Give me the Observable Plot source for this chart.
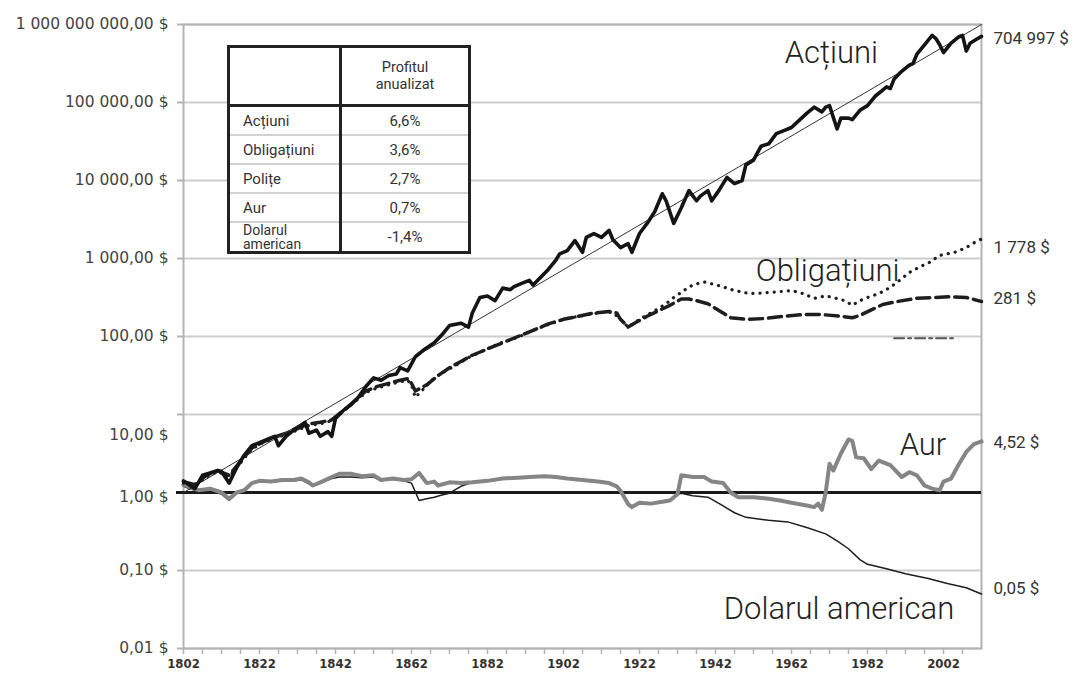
<!DOCTYPE html>
<html><head><meta charset="utf-8">
<script src="https://cdn.jsdelivr.net/npm/d3@7"></script>
<script src="https://cdn.jsdelivr.net/npm/@observablehq/plot@0.6"></script>
<style>
html,body{margin:0;padding:0;background:#fff;}
#wrap{position:relative;width:1080px;height:680px;overflow:hidden;}
#wrap svg{position:absolute;left:0;top:0;}
#tbl{position:absolute;left:227px;top:45px;width:244px;height:207px;border-collapse:collapse;table-layout:fixed;background:#fff;
  font-family:Roboto,sans-serif;font-size:15px;color:#333;border:3px solid #222;}
#tbl td{padding:0;}
#tbl td.c1{width:112px;padding-left:13px;padding-right:3px;text-align:left;box-sizing:border-box;}
#tbl td.c2{border-left:3px solid #222;text-align:center;}
#tbl tr.head td{height:56px;border-bottom:3px solid #222;line-height:17px;font-size:14.5px;}
#tbl tr.body td{border-top:2px solid #d2d2d2;height:27px;}
#tbl tr.body:first-of-type td{border-top:none;}
#tbl td.wrap{line-height:14px;font-size:14px;vertical-align:bottom;}
</style></head><body><div id="wrap"></div>
<script>
// ---- data (year, value in $) ----
const stocks = [[1802,1.41],[1804,1.2],[1805,1.12],[1807,1.66],[1809,1.78],[1811,1.91],[1812,1.86],[1814,1.32],[1816,2.09],[1818,3.02],[1820,3.98],[1822,4.37],[1824,4.79],[1826,5.25],[1827,3.98],[1829,5.25],[1831,6.31],[1833,7.24],[1834,7.94],[1835,5.75],[1837,6.31],[1838,5.25],[1840,6.03],[1841,5.25],[1842,8.91],[1844,11.2],[1846,13.2],[1848,16.6],[1850,22.9],[1852,29.5],[1854,27.5],[1856,31.6],[1858,33.1],[1859,39.8],[1861,36.3],[1863,55],[1865,66],[1868,83],[1870,105],[1872,138],[1875,148],[1877,132],[1878,200],[1880,316],[1882,331],[1884,288],[1886,417],[1888,398],[1889,437],[1891,479],[1893,525],[1894,457],[1896,575],[1898,724],[1900,955],[1901,1148],[1903,1259],[1905,1698],[1907,1202],[1908,1862],[1910,2089],[1912,1862],[1914,2291],[1915,1738],[1917,1380],[1919,1549],[1920,1202],[1922,2089],[1924,2818],[1926,3981],[1928,6761],[1929,5495],[1931,2818],[1933,4467],[1935,7413],[1937,5495],[1938,6310],[1940,7413],[1941,5495],[1943,7586],[1945,10965],[1947,9120],[1949,10000],[1950,15849],[1952,18197],[1954,27542],[1956,29512],[1958,39811],[1960,43652],[1962,47863],[1964,58884],[1966,72444],[1968,87096],[1970,75858],[1971,87096],[1972,91201],[1974,45709],[1975,63096],[1977,63096],[1978,60256],[1980,79433],[1982,91201],[1984,120226],[1986,144544],[1987,158489],[1988,151356],[1989,199526],[1991,251189],[1993,301995],[1994,316228],[1995,416869],[1997,549541],[1999,724436],[2000,660693],[2001,549541],[2002,436516],[2004,575440],[2006,691831],[2007,724436],[2008,457088],[2009,575440],[2011,660693],[2012,704997]];
const stockTrend = [[1802,1.0],[2012,1000000]];
const bonds = [[1802,1.32],[1805,1.2],[1808,1.58],[1811,1.86],[1814,1.58],[1817,2.4],[1820,3.63],[1823,4.37],[1826,5.01],[1829,5.5],[1832,6.31],[1835,7.24],[1838,7.59],[1841,8.32],[1844,11.0],[1847,14.5],[1850,19.1],[1853,21.9],[1856,24.0],[1859,26.3],[1861,27.5],[1862,24.0],[1863,16.6],[1865,20.9],[1868,29.5],[1871,36.3],[1874,43.7],[1877,53.7],[1881,66.1],[1885,81.3],[1890,97.7],[1894,120],[1899,148],[1903,170],[1907,186],[1912,204],[1915,204],[1917,166],[1919,132],[1922,166],[1926,214],[1929,263],[1931,316],[1934,398],[1936,457],[1939,501],[1943,447],[1947,389],[1951,355],[1955,363],[1958,372],[1962,389],[1965,355],[1968,309],[1971,331],[1973,316],[1976,288],[1978,251],[1980,288],[1982,316],[1985,355],[1988,427],[1991,550],[1993,661],[1996,794],[1998,871],[2001,1096],[2003,1148],[2005,1202],[2008,1380],[2010,1585],[2012,1778]];
const bills = [[1802,1.38],[1805,1.26],[1808,1.66],[1811,1.91],[1814,1.66],[1817,2.51],[1820,3.72],[1823,4.47],[1826,5.13],[1829,5.75],[1832,6.61],[1835,7.59],[1838,7.94],[1841,8.51],[1844,11.2],[1847,14.8],[1850,20.0],[1853,22.9],[1856,25.1],[1859,27.5],[1861,28.8],[1862,25.1],[1863,20.0],[1866,24.0],[1869,31.6],[1872,39.8],[1875,47.9],[1878,57.5],[1882,69.2],[1886,83.2],[1890,100],[1894,120],[1898,145],[1902,166],[1906,182],[1910,200],[1914,209],[1916,200],[1917,166],[1919,132],[1921,151],[1924,182],[1927,214],[1930,251],[1933,302],[1935,302],[1937,288],[1940,263],[1943,214],[1946,174],[1950,166],[1955,170],[1960,182],[1965,191],[1970,191],[1975,182],[1978,174],[1980,186],[1983,219],[1986,257],[1990,282],[1995,309],[2000,316],[2004,324],[2008,316],[2012,281]];
const gold = [[1802,1.26],[1804,1.15],[1806,1.07],[1809,1.12],[1812,1.0],[1814,0.83],[1816,1.0],[1818,1.07],[1820,1.32],[1822,1.41],[1825,1.38],[1828,1.45],[1831,1.45],[1833,1.51],[1835,1.35],[1836,1.23],[1838,1.35],[1841,1.58],[1843,1.74],[1846,1.74],[1849,1.62],[1852,1.66],[1854,1.45],[1857,1.51],[1860,1.45],[1862,1.48],[1864,1.78],[1866,1.32],[1868,1.38],[1869,1.23],[1872,1.35],[1875,1.32],[1878,1.35],[1882,1.41],[1886,1.51],[1890,1.55],[1893,1.58],[1897,1.62],[1900,1.58],[1903,1.51],[1907,1.45],[1911,1.38],[1914,1.32],[1916,1.2],[1917,1.05],[1919,0.71],[1920,0.65],[1922,0.74],[1925,0.72],[1928,0.76],[1930,0.79],[1932,0.95],[1933,1.66],[1936,1.58],[1939,1.58],[1941,1.38],[1944,1.32],[1946,1.0],[1948,0.87],[1952,0.87],[1956,0.83],[1959,0.79],[1962,0.74],[1966,0.68],[1968,0.65],[1969,0.72],[1970,0.6],[1971,1.0],[1972,2.34],[1973,1.91],[1975,3.16],[1977,4.79],[1978,4.57],[1979,2.82],[1981,2.75],[1983,2.0],[1985,2.57],[1988,2.24],[1991,1.58],[1993,1.82],[1995,1.66],[1997,1.23],[1999,1.12],[2001,1.07],[2002,1.38],[2004,1.51],[2006,2.29],[2008,3.31],[2010,4.17],[2012,4.52]];
const dollar = [[1802,1.2],[1804,1.1],[1806,1.05],[1809,1.1],[1812,0.95],[1814,0.79],[1816,0.98],[1818,1.05],[1820,1.29],[1822,1.38],[1825,1.35],[1828,1.41],[1831,1.41],[1833,1.45],[1835,1.29],[1836,1.2],[1838,1.32],[1841,1.51],[1843,1.58],[1846,1.58],[1849,1.55],[1852,1.58],[1854,1.41],[1857,1.48],[1860,1.41],[1862,1.32],[1864,0.79],[1866,0.83],[1868,0.87],[1870,0.93],[1872,0.98],[1875,1.2],[1878,1.35],[1882,1.41],[1886,1.51],[1890,1.55],[1893,1.58],[1897,1.62],[1900,1.58],[1903,1.51],[1907,1.45],[1911,1.38],[1914,1.32],[1916,1.2],[1917,1.05],[1919,0.71],[1920,0.65],[1922,0.74],[1925,0.72],[1928,0.76],[1930,0.79],[1932,0.95],[1933,0.98],[1936,0.91],[1940,0.87],[1943,0.72],[1947,0.55],[1950,0.48],[1956,0.44],[1961,0.42],[1966,0.355],[1971,0.295],[1974,0.24],[1977,0.19],[1980,0.138],[1982,0.12],[1987,0.105],[1992,0.091],[1998,0.079],[2003,0.068],[2008,0.06],[2012,0.05]];
const strayFragment = [[1989,95],[2004.5,95]];
const parity = [1];

const yTickValues = [1e6, 1e5, 1e4, 1e3, 100, 10, 1, 0.1, 0.01];
const yTickLabels = ["1 000 000 000,00 $", "100 000,00 $", "10 000,00 $", "1 000,00 $", "100,00 $", "10,00 $", "1,00 $", "0,10 $", "0,01 $"];
const xTickLabels = [1802, 1822, 1842, 1862, 1882, 1902, 1922, 1942, 1962, 1982, 2002];
const xMinorTicks = [1802,1807,1812,1817,1822,1827,1832,1837,1842,1847,1852,1857,1862,1867,1872,1877,1882,1887,1892,1897,1902,1907,1912,1917,1922,1927,1932,1937,1942,1947,1952,1957,1962,1967,1972,1977,1982,1987,1992,1997,2002,2007];

const seriesNames = ["Acțiuni", "Obligațiuni", "Aur", "Dolarul american"];
const seriesNameYears = [1972.5, 1971.5, 1996.6, 1974.5];
const seriesNameValues = [436516, 692, 4.07, 0.0316];
const endLabels = ["704 997 $", "1 778 $", "281 $", "4,52 $", "0,05 $"];
const endLabelValues = [660693, 1380, 309, 4.37, 0.0589];

const tableAssets = ["Acțiuni", "Obligațiuni", "Polițe", "Aur", "Dolarul american"];
const tableReturns = ["6,6%", "3,6%", "2,7%", "0,7%", "-1,4%"];
const tableHeader = ["Profitul", "anualizat"];

// ---- build ----
const rows = a => a.map(([year, value]) => ({year, value}));
const yLab = yTickValues.map((v, i) => ({value: v, label: yTickLabels[i], i}));
const names = seriesNames.map((t, i) => ({text: t, year: seriesNameYears[i], value: seriesNameValues[i]}));
const ends = endLabels.map((t, i) => ({text: t, value: endLabelValues[i]}));

const lineFont = "Roboto, sans-serif";
const tickFont = "'DejaVu Sans', sans-serif";
const chart = Plot.plot({
  width: 1080, height: 680,
  marginLeft: 183, marginRight: 99, marginTop: 24, marginBottom: 32,
  style: {fontFamily: tickFont, fontSize: "15px", color: "#333", background: "transparent"},
  x: {domain: [1802, 2012]},
  y: {type: "log", domain: [0.01, 1e6]},
  marks: [
    Plot.ruleY(yTickValues, {stroke: "#cdcdcd", strokeWidth: 2}),
    Plot.frame({stroke: "#b3b3b3", strokeWidth: 2}),
    Plot.axisY(yTickValues, {tickSize: 6, stroke: "#b3b3b3", strokeWidth: 2, fill: "none", label: null}),
    Plot.axisX(xMinorTicks, {tickSize: 6, stroke: "#b3b3b3", strokeWidth: 1.5, fill: "none", label: null}),
    Plot.axisX(xTickLabels, {tickSize: 0, tickPadding: 10, tickFormat: d => String(d), fontFamily: "'DejaVu Sans Condensed', 'DejaVu Sans', sans-serif", fontWeight: "bold", fontSize: 13, fill: "#333", label: null}),
    Plot.text(yLab.filter(d => d.i !== 5 && d.i !== 6), {y: "value", text: "label", frameAnchor: "left", dx: -15, textAnchor: "end", fill: "#444", fontFamily: tickFont, fontSize: 15.5}),
    Plot.text(yLab.filter(d => d.i === 5), {y: "value", text: "label", frameAnchor: "left", dx: -15, dy: 21, textAnchor: "end", fill: "#444", fontFamily: tickFont, fontSize: 15.5}),
    Plot.text(yLab.filter(d => d.i === 6), {y: "value", text: "label", frameAnchor: "left", dx: -15, dy: 5, textAnchor: "end", fill: "#444", fontFamily: tickFont, fontSize: 15.5}),
    Plot.ruleY(parity, {stroke: "#1a1a1a", strokeWidth: 3, insetLeft: -7}),
    Plot.line(rows(strayFragment), {x: "year", y: "value", stroke: "#555", strokeWidth: 2, strokeDasharray: "10,4,3,4"}),
    Plot.line(rows(dollar), {x: "year", y: "value", stroke: "#1e1e1e", strokeWidth: 1.5, strokeLinejoin: "round"}),
    Plot.line(rows(gold), {x: "year", y: "value", stroke: "#858585", strokeWidth: 4, strokeLinejoin: "round"}),
    Plot.line(rows(bills), {x: "year", y: "value", stroke: "#1e1e1e", strokeWidth: 3.5, strokeDasharray: "13,6", strokeLinejoin: "round"}),
    Plot.line(rows(bonds), {x: "year", y: "value", stroke: "#1e1e1e", strokeWidth: 3.2, strokeDasharray: "0.1,7", strokeLinecap: "round", strokeLinejoin: "round"}),
    Plot.line(rows(stockTrend), {x: "year", y: "value", stroke: "#333", strokeWidth: 1}),
    Plot.line(rows(stocks), {x: "year", y: "value", stroke: "#141414", strokeWidth: 3.6, strokeLinejoin: "round"}),
    Plot.text(names, {x: "year", y: "value", text: "text", fontFamily: lineFont, fontWeight: 300, fontSize: 31, fill: "#222", textAnchor: "middle", lineAnchor: "middle"}),
    Plot.text(ends, {y: "value", text: "text", frameAnchor: "right", dx: 12, textAnchor: "start", fontFamily: lineFont, fontWeight: 400, fontSize: 17, fill: "#333"})
  ]
});

const wrap = document.getElementById("wrap");
wrap.appendChild(chart);

// ---- table ----
const tbl = document.createElement("table");
tbl.id = "tbl";
const head = document.createElement("tr");
head.className = "head";
const h1 = document.createElement("td"); h1.className = "c1";
const h2 = document.createElement("td"); h2.className = "c2";
h2.innerHTML = tableHeader.join("<br>");
head.append(h1, h2);
tbl.appendChild(head);
tableAssets.forEach((a, i) => {
  const tr = document.createElement("tr");
  tr.className = "body";
  const c1 = document.createElement("td");
  c1.className = "c1" + (a.includes(" ") ? " wrap" : "");
  c1.innerHTML = a.includes(" ") ? a.split(" ").join("<br>") : a;
  const c2 = document.createElement("td");
  c2.className = "c2";
  c2.textContent = tableReturns[i];
  tr.append(c1, c2);
  tbl.appendChild(tr);
});
wrap.appendChild(tbl);
</script>
</body></html>
